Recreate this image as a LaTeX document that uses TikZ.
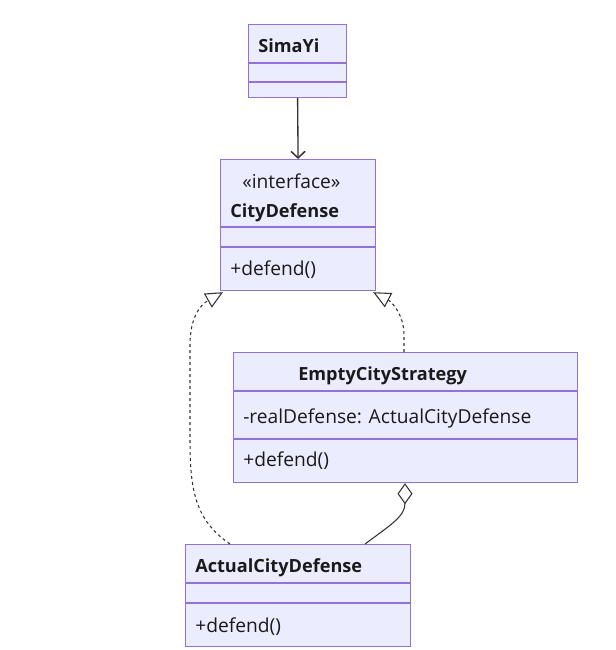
\documentclass[tikz,border=0pt]{standalone}
\usepackage{fontspec}
\setmainfont{Open Sans}
\usetikzlibrary{arrows.meta,calc}
\definecolor{boxfill}{HTML}{ECECFF}
\definecolor{boxline}{HTML}{9370DB}
\definecolor{txt}{HTML}{1A1A1A}
\definecolor{edge}{HTML}{333333}
\begin{document}
\begin{tikzpicture}[x=0.75pt,y=-0.75pt,
  box/.style={draw=boxline, fill=boxfill, line width=0.9pt, inner sep=0pt, anchor=north west},
  divider/.style={draw=boxline, line width=0.9pt},
  title/.style={anchor=base west, inner sep=0pt, text=txt, font=\fontsize{13.6}{16}\selectfont\bfseries},
  member/.style={anchor=base west, inner sep=0pt, text=txt, font=\fontsize{14.4}{17}\selectfont},
  stereo/.style={anchor=base west, inner sep=0pt, text=txt, font=\fontsize{14.4}{17}\selectfont},
  conn/.style={draw=edge, line width=0.8pt},
  realize/.style={conn, dash pattern=on 2.25pt off 2.25pt, -{Triangle[length=13pt, width=12pt, fill=white, line width=0.8pt]}},
  assoc/.style={conn, line width=1pt, -{Straight Barb[length=5pt, width=10.5pt, line width=1.1pt]}},
  aggr/.style={conn, -{Diamond[length=15.75pt, width=11.25pt, fill=white, line width=0.8pt]}}
]
\useasboundingbox (0,0) rectangle (616,650);

% SimaYi
\node[box, minimum width=73.5pt, minimum height=54.75pt] (sima) at (248,24) {};
\draw[divider] (248,63) -- (346,63);
\draw[divider] (248,82) -- (346,82);
\node[title] (simaT) at (258,52) {SimaYi};

% CityDefense
\node[box, minimum width=116.25pt, minimum height=98.25pt] (city) at (220,159) {};
\draw[divider] (220,227) -- (375,227);
\draw[divider] (220,247) -- (375,247);
\node[stereo] (cityS) at (242,188) {«interface»};
\node[title] (cityT) at (230,217) {CityDefense};
\node[member] (cityM) at (230,275) {+defend()};

% EmptyCityStrategy
\node[box, minimum width=258pt, minimum height=97.5pt] (empty) at (233,352) {};
\draw[divider] (233,391) -- (577,391);
\draw[divider] (233,439) -- (577,439);
\node[title] (emptyT) at (298,380) {EmptyCityStrategy};
\node[member] (emptyA) at (243,423) {-realDefense: ActualCityDefense};
\node[member] (emptyM) at (243,466) {+defend()};

% ActualCityDefense
\node[box, minimum width=168.75pt, minimum height=76.5pt] (actual) at (185,544) {};
\draw[divider] (185,583) -- (410,583);
\draw[divider] (185,603) -- (410,603);
\node[title] (actualT) at (195,572) {ActualCityDefense};
\node[member] (actualM) at (195,632) {+defend()};

% connector end points
\coordinate (citySW) at ($(city.south west)+(3,1)$);
\coordinate (citySE) at ($(city.south east)+(-3,1)$);
\coordinate (emptyTop) at ($(empty.north west)+(171,0)$);
\coordinate (emptyBot) at ($(empty.south west)+(172,0)$);
\coordinate (actualTopL) at ($(actual.north west)+(45,0)$);
\coordinate (actualTopR) at ($(actual.north west)+(180,0)$);

% connectors
\draw[assoc] (sima.south) -- (city.north);
\draw[realize] (actualTopL) .. controls (195,520) and (190,490) .. (190,440)
  -- (190,345) .. controls (190,318) and (200,305) .. (citySW);
\draw[realize] (emptyTop) -- (404,335) .. controls (404,315) and (392,302) .. (citySE);
\draw[aggr] (actualTopR) .. controls (392,524) and (405,516) .. (emptyBot);
\end{tikzpicture}
\end{document}
